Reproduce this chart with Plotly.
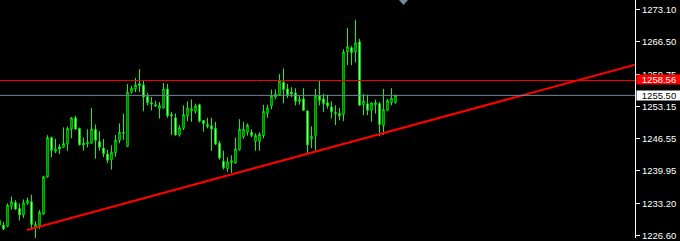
import plotly.graph_objects as go

# ---- data ----
bar_index = list(range(-1, 99))

opens = [1229.79, 1228.78, 1228.51, 1232.64, 1233.45, 1232.23, 1230.87, 1233.25, 1233.60, 1228.23,
         1228.72, 1231.07, 1238.68, 1246.81, 1243.96, 1244.90, 1244.78, 1245.51, 1248.56, 1250.88,
         1248.70, 1245.65, 1245.45, 1245.65, 1248.50, 1246.00, 1244.64, 1243.41, 1242.20, 1243.68,
         1246.20, 1247.68, 1244.98, 1256.16, 1256.83, 1257.91, 1257.65, 1255.27, 1253.99, 1253.58,
         1252.77, 1252.91, 1256.83, 1251.55, 1250.88, 1247.34, 1248.70, 1251.28, 1252.30, 1252.22,
         1253.58, 1250.33, 1249.51, 1249.25, 1248.70, 1245.65, 1241.93, 1240.43, 1241.65, 1241.59,
         1244.29, 1247.01, 1247.89, 1247.89, 1246.00, 1246.00, 1247.22, 1251.75, 1253.32, 1255.15,
         1255.61, 1258.20, 1256.83, 1256.16, 1255.96, 1254.25, 1254.80, 1252.30, 1246.53, 1247.22,
         1255.35, 1254.80, 1253.99, 1253.11, 1251.95, 1251.75, 1251.55, 1264.42, 1265.31, 1264.42,
         1266.53, 1253.58, 1253.78, 1252.42, 1253.58, 1253.78, 1249.25, 1252.42, 1253.99, 1253.99]

highs = [1230.40, 1229.39, 1233.25, 1234.67, 1233.92, 1233.25, 1234.06, 1234.47, 1235.02, 1229.59,
         1231.89, 1238.94, 1247.28, 1247.01, 1246.53, 1245.45, 1248.90, 1249.05, 1251.00, 1251.28,
         1248.84, 1246.81, 1248.50, 1252.91, 1249.51, 1248.15, 1246.53, 1244.29, 1245.18, 1247.34,
         1249.72, 1251.75, 1257.85, 1257.50, 1259.07, 1260.90, 1258.52, 1256.02, 1255.15, 1254.39,
         1254.13, 1258.05, 1257.85, 1252.10, 1251.75, 1249.37, 1253.44, 1254.25, 1254.66, 1253.78,
         1253.78, 1250.39, 1250.88, 1250.88, 1250.06, 1246.12, 1244.09, 1242.74, 1243.15, 1246.81,
         1250.59, 1250.06, 1249.72, 1248.50, 1247.68, 1247.89, 1253.58, 1253.58, 1256.69, 1256.69,
         1259.88, 1261.04, 1257.85, 1257.18, 1256.97, 1255.35, 1256.97, 1252.42, 1249.11, 1256.83,
         1258.52, 1255.82, 1255.61, 1254.25, 1253.44, 1252.91, 1264.97, 1269.38, 1265.64, 1271.06,
         1267.14, 1255.82, 1255.61, 1254.13, 1254.60, 1254.13, 1256.83, 1254.80, 1256.97, 1255.61]

lows = [1228.17, 1227.76, 1228.40, 1231.97, 1231.89, 1229.73, 1230.26, 1232.99, 1227.82, 1225.93,
        1228.03, 1230.87, 1238.54, 1242.74, 1243.62, 1243.41, 1244.64, 1244.09, 1246.67, 1248.36,
        1245.18, 1244.09, 1244.78, 1245.45, 1242.46, 1244.09, 1242.80, 1241.59, 1240.22, 1242.86,
        1245.65, 1246.32, 1244.98, 1255.82, 1256.16, 1256.16, 1252.22, 1253.44, 1252.42, 1253.17,
        1250.73, 1252.77, 1250.88, 1247.34, 1247.22, 1247.01, 1248.36, 1250.19, 1250.06, 1251.75,
        1249.92, 1248.03, 1248.70, 1244.09, 1245.31, 1242.26, 1240.22, 1239.76, 1239.55, 1241.38,
        1244.09, 1246.53, 1247.22, 1246.87, 1244.09, 1244.09, 1246.67, 1250.88, 1252.63, 1254.66,
        1255.35, 1253.85, 1254.94, 1255.15, 1253.44, 1253.58, 1252.30, 1243.62, 1244.64, 1244.09,
        1253.44, 1252.10, 1252.77, 1250.73, 1249.37, 1250.39, 1250.19, 1261.71, 1261.71, 1262.26,
        1253.38, 1251.41, 1251.41, 1250.06, 1251.75, 1247.07, 1247.34, 1252.22, 1253.44, 1253.78]

closes = [1228.78, 1227.97, 1232.91, 1233.60, 1232.09, 1230.87, 1233.39, 1233.86, 1228.92, 1228.92,
          1231.42, 1238.74, 1246.81, 1244.17, 1244.49, 1244.43, 1245.59, 1248.70, 1250.88, 1248.56,
          1245.31, 1245.31, 1245.86, 1248.56, 1246.20, 1244.78, 1243.48, 1242.13, 1243.82, 1246.26,
          1247.89, 1247.89, 1256.16, 1256.97, 1257.65, 1257.50, 1255.15, 1253.99, 1253.72, 1253.32,
          1253.38, 1256.83, 1251.28, 1251.28, 1247.34, 1248.84, 1251.55, 1252.91, 1252.77, 1253.32,
          1250.19, 1249.66, 1249.11, 1248.56, 1245.45, 1242.60, 1240.57, 1241.79, 1242.05, 1244.49,
          1248.56, 1248.56, 1249.37, 1247.22, 1247.22, 1247.48, 1252.22, 1252.91, 1255.35, 1255.82,
          1258.46, 1256.69, 1255.61, 1255.76, 1254.25, 1254.66, 1252.42, 1245.31, 1247.07, 1255.35,
          1254.45, 1253.78, 1253.32, 1252.10, 1251.69, 1251.28, 1264.42, 1265.51, 1264.29, 1266.33,
          1253.44, 1254.33, 1252.42, 1253.93, 1253.99, 1249.51, 1252.56, 1254.45, 1254.94, 1255.50]

tick_values = [1273.10, 1266.50, 1259.75, 1253.15, 1246.55, 1239.95, 1233.20, 1226.60]
tick_labels = ["1273.10", "1266.50", "1259.75", "1253.15", "1246.55", "1239.95", "1233.20", "1226.60"]

level_price = 1258.56      # red horizontal level
bid_price = 1255.50        # current bid line
trend_x = [5.875, 157.875]
trend_y = [1227.76, 1261.81]
shift_marker_x = 100

# ---- style ----
LIME = "#00ff00"
GRAY = "#778899"
RED = "#ff0000"
FONT = "Liberation Sans"
y_range = [1226.13, 1275.13]
x_range = [-0.875, 157.875]

fig = go.Figure()
fig.add_trace(go.Candlestick(
    x=bar_index, open=opens, high=highs, low=lows, close=closes,
    increasing=dict(line=dict(color=LIME, width=1), fillcolor="#000000"),
    decreasing=dict(line=dict(color=LIME, width=1), fillcolor="#ffffff"),
    whiskerwidth=0, hoverinfo="skip", showlegend=False,
))
fig.add_trace(go.Scatter(
    x=trend_x, y=trend_y, mode="lines",
    line=dict(color=RED, width=2), hoverinfo="skip", showlegend=False,
))

fig.add_hline(y=level_price, line=dict(color=RED, width=1))
fig.add_hline(y=bid_price, line=dict(color=GRAY, width=1))

# chart-shift marker at top
fig.add_shape(type="path", xref="x", yref="paper",
              path=f"M {shift_marker_x-1.125},1 L {shift_marker_x+1.125},1 L {shift_marker_x},0.979 Z",
              fillcolor=GRAY, line=dict(width=0))

# price labels on the axis
fig.add_annotation(x=1, xref="paper", xanchor="left", xshift=1,
                   y=level_price, yref="y", yanchor="middle", yshift=1,
                   text=f"{level_price:.2f}", showarrow=False,
                   bgcolor=RED, font=dict(color="#ffffff", size=9.5, family=FONT),
                   width=44, height=9, borderpad=0, align="center")
fig.add_annotation(x=1, xref="paper", xanchor="left", xshift=1,
                   y=bid_price, yref="y", yanchor="middle",
                   text=f"{bid_price:.2f}", showarrow=False,
                   bgcolor="#ffffff", font=dict(color="#000000", size=9.5, family=FONT),
                   width=44, height=9, borderpad=0, align="center")

fig.update_layout(
    width=680, height=241,
    margin=dict(l=0, r=45, t=0, b=0),
    paper_bgcolor="#000000", plot_bgcolor="#000000",
    font=dict(family=FONT, color="#ffffff", size=9.5),
    xaxis=dict(range=x_range, visible=False, rangeslider=dict(visible=False),
               showgrid=False, zeroline=False, fixedrange=True),
    yaxis=dict(range=y_range, side="right", showgrid=False, zeroline=False,
               showline=True, linecolor="#ffffff", linewidth=1,
               ticks="outside", ticklen=4, tickcolor="#ffffff", tickwidth=1,
               tickvals=tick_values, ticktext=tick_labels,
               tickfont=dict(color="#ffffff", size=9.5, family=FONT),
               ticklabeloverflow="allow",
               fixedrange=True),
    boxgap=0.5,
    hovermode=False,
)

fig.write_html("out.html", config={"displayModeBar": False})
